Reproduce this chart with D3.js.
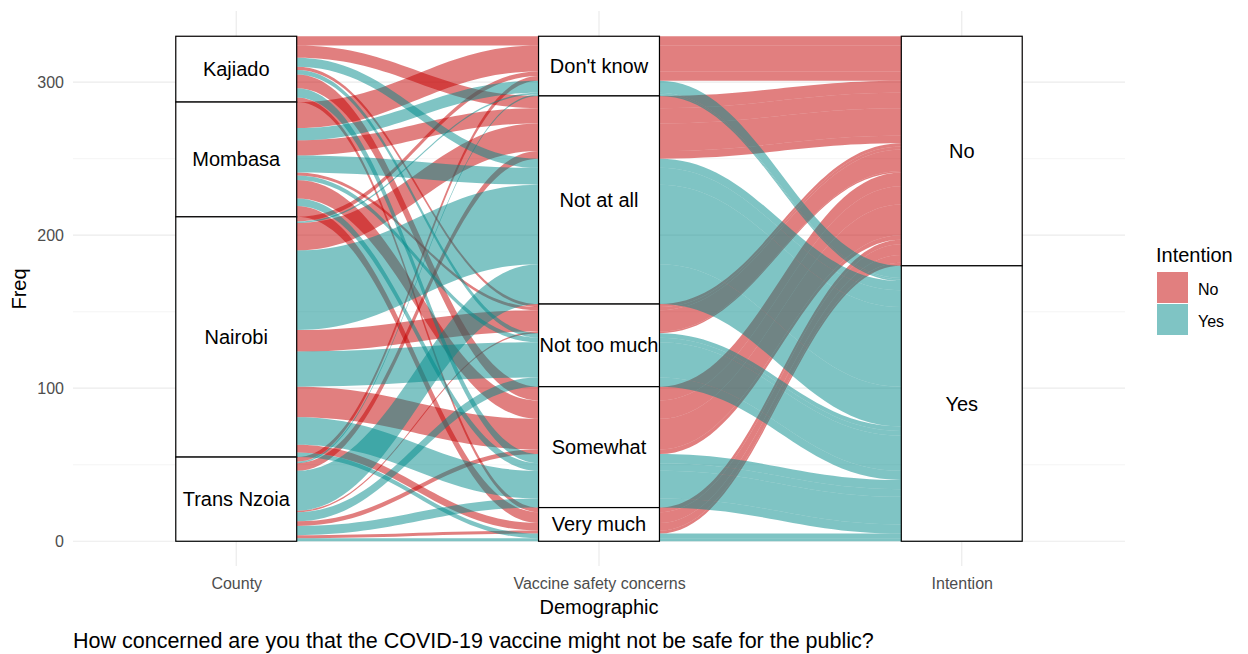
<!DOCTYPE html>
<html>
<head>
<meta charset="utf-8">
<script src="https://cdn.jsdelivr.net/npm/d3@7"></script>
<style>
  body { margin: 0; background: #fff; }
  text { font-family: "Liberation Sans", Arial, sans-serif; }
</style>
</head>
<body>
<svg id="chart" width="1248" height="654"></svg>
<script>
// axes of the alluvial plot
const axisNames = ["County", "Vaccine safety concerns", "Intention"];
const counties = ["Kajiado", "Mombasa", "Nairobi", "Trans Nzoia"];
const concerns = ["Don't know", "Not at all", "Not too much", "Somewhat", "Very much"];
const intentions = ["No", "Yes"];

// respondents per county, one value per concern level (same order as concerns)
const kajiadoNo = [6, 8, 2, 9, 3],     kajiadoYes = [0, 6, 3, 6, 0];
const mombasaNo = [17, 10, 2, 12, 7],  mombasaYes = [8, 11, 3, 5, 0];
const nairobiNo = [3, 18, 14, 20, 5],  nairobiYes = [1, 52, 23, 18, 3];
const transNzoiaNo = [3, 5, 1, 3, 2],  transNzoiaYes = [1, 26, 6, 6, 2];

const yTicks = [0, 100, 200, 300];
const yMinor = [50, 150, 250];

const svg = d3.select("#chart");

// build rows: one alluvium per county / concern / intention
const table = [
  [kajiadoNo, kajiadoYes], [mombasaNo, mombasaYes],
  [nairobiNo, nairobiYes], [transNzoiaNo, transNzoiaYes]
];
const rows = [];
counties.forEach((c, ci) => {
  concerns.forEach((s, si) => {
    intentions.forEach((it, ii) => {
      const f = table[ci][ii][si];
      if (f > 0) rows.push({ county: c, concern: s, intention: it, ci: ci, si: si, ii: ii, freq: f });
    });
  });
});
const total = d3.sum(rows, d => d.freq);

// scales
const x = d3.scaleLinear().domain([0.55, 3.45]).range([73, 1125]);
const y = d3.scaleLinear().domain([-16.5, 346.5]).range([566.5, 11]);
const halfW = (x(1 + 1/6) - x(1));

const color = d3.scaleOrdinal().domain(intentions).range(["rgb(195,0,0)", "rgb(0,137,137)"]);

// grid (theme_minimal)
const grid = svg.append("g");
grid.selectAll(".minor").data(yMinor).enter().append("line")
  .attr("x1", 73).attr("x2", 1125)
  .attr("y1", d => y(d)).attr("y2", d => y(d))
  .attr("stroke", "#f3f3f3").attr("stroke-width", 0.8);
grid.selectAll(".major").data(yTicks).enter().append("line")
  .attr("x1", 73).attr("x2", 1125)
  .attr("y1", d => y(d)).attr("y2", d => y(d))
  .attr("stroke", "#ebebeb").attr("stroke-width", 1.2);
grid.selectAll(".vmajor").data([1, 2, 3]).enter().append("line")
  .attr("x1", d => x(d)).attr("x2", d => x(d))
  .attr("y1", 11).attr("y2", 566)
  .attr("stroke", "#ebebeb").attr("stroke-width", 1.2);

// lode positions (ggalluvial zigzag ordering, first level on top)
function stackLodes(sortFns) {
  const pos = new Map();
  let top = total;
  const sorted = rows.slice().sort((a, b) => {
    for (const f of sortFns) { const d = f(a) - f(b); if (d) return d; }
    return 0;
  });
  sorted.forEach(r => {
    pos.set(r, [top, top - r.freq]);
    top -= r.freq;
  });
  return pos;
}
const lode1 = stackLodes([d => d.ci, d => d.si, d => d.ii]);
const lode2 = stackLodes([d => d.si, d => d.ii, d => d.ci]);
const lode3 = stackLodes([d => d.ii, d => d.si, d => d.ci]);

// stratum extents
function strata(levels, key, axis) {
  let top = total;
  return levels.map(l => {
    const n = d3.sum(rows.filter(r => r[key] === levels.indexOf(l)), r => r.freq);
    const s = { label: l, axis: axis, top: top, bottom: top - n };
    top -= n;
    return s;
  });
}
const allStrata = [].concat(
  strata(counties, "ci", 1),
  strata(concerns, "si", 2),
  strata(intentions, "ii", 3)
);

// alluvium path
const kf = 0.42;
function flowEdge(x0, y0, x1, y1) {
  const dx = x1 - x0;
  return `C${x0 + kf * dx},${y0} ${x1 - kf * dx},${y1} ${x1},${y1}`;
}
function alluviumPath(r) {
  const L = [lode1.get(r), lode2.get(r), lode3.get(r)];
  const xs = [1, 2, 3].map(a => [x(a) - halfW, x(a) + halfW]);
  let p = `M${xs[0][0]},${y(L[0][0])}H${xs[0][1]}`;
  p += flowEdge(xs[0][1], y(L[0][0]), xs[1][0], y(L[1][0]));
  p += `H${xs[1][1]}`;
  p += flowEdge(xs[1][1], y(L[1][0]), xs[2][0], y(L[2][0]));
  p += `H${xs[2][1]}`;
  p += `L${xs[2][1]},${y(L[2][1])}H${xs[2][0]}`;
  p += flowEdge(xs[2][0], y(L[2][1]), xs[1][1], y(L[1][1]));
  p += `H${xs[1][0]}`;
  p += flowEdge(xs[1][0], y(L[1][1]), xs[0][1], y(L[0][1]));
  p += `H${xs[0][0]}Z`;
  return p;
}

// draw "No" alluvia first, "Yes" on top
const drawOrder = rows.slice().sort((a, b) => a.ii - b.ii);
svg.append("g").selectAll("path").data(drawOrder).enter().append("path")
  .attr("d", alluviumPath)
  .attr("fill", d => color(d.intention))
  .attr("fill-opacity", 0.5)
  .attr("stroke", "none");

// strata boxes
const sg = svg.append("g").selectAll("g").data(allStrata).enter().append("g");
sg.append("rect")
  .attr("x", d => x(d.axis) - halfW)
  .attr("y", d => y(d.top))
  .attr("width", 2 * halfW)
  .attr("height", d => y(d.bottom) - y(d.top))
  .attr("fill", "#fff").attr("stroke", "#000").attr("stroke-width", 1.2);
sg.append("text")
  .attr("x", d => x(d.axis))
  .attr("y", d => (y(d.top) + y(d.bottom)) / 2 + 7)
  .attr("text-anchor", "middle")
  .attr("font-size", 20).attr("fill", "#000")
  .text(d => d.label);

// y axis
const yAxis = svg.append("g").attr("transform", "translate(68,0)")
  .call(d3.axisLeft(y).tickValues(yTicks).tickSize(0).tickPadding(4));
yAxis.select(".domain").remove();
yAxis.selectAll("text").attr("font-size", 16).attr("fill", "#4d4d4d")
  .attr("font-family", "'Liberation Sans', Arial, sans-serif");

// x axis labels
const xAxis = svg.append("g").attr("transform", "translate(0,574)")
  .call(d3.axisBottom(x).tickValues([1, 2, 3]).tickSize(0).tickPadding(4)
    .tickFormat(d => axisNames[d - 1]));
xAxis.select(".domain").remove();
xAxis.selectAll("text").attr("font-size", 16).attr("fill", "#4d4d4d")
  .attr("font-family", "'Liberation Sans', Arial, sans-serif");

// titles
svg.append("text").attr("x", x(2)).attr("y", 614).attr("text-anchor", "middle")
  .attr("font-size", 20).attr("fill", "#000").text("Demographic");
svg.append("text").attr("transform", "translate(26,289) rotate(-90)")
  .attr("text-anchor", "middle").attr("font-size", 20).attr("fill", "#000").text("Freq");
svg.append("text").attr("x", 73).attr("y", 648)
  .attr("font-size", 21.5).attr("fill", "#000")
  .text("How concerned are you that the COVID-19 vaccine might not be safe for the public?");

// legend
const lg = svg.append("g").attr("transform", "translate(1156,0)");
lg.append("text").attr("x", 0).attr("y", 262).attr("font-size", 20).attr("fill", "#000").text("Intention");
const li = lg.selectAll(".key").data(intentions).enter().append("g")
  .attr("transform", (d, i) => `translate(1,${272 + i * 32})`);
li.append("rect").attr("width", 31).attr("height", 31)
  .attr("fill", d => color(d)).attr("fill-opacity", 0.5);
li.append("text").attr("x", 41).attr("y", 23).attr("font-size", 16).attr("fill", "#000").text(d => d);
</script>
</body>
</html>
